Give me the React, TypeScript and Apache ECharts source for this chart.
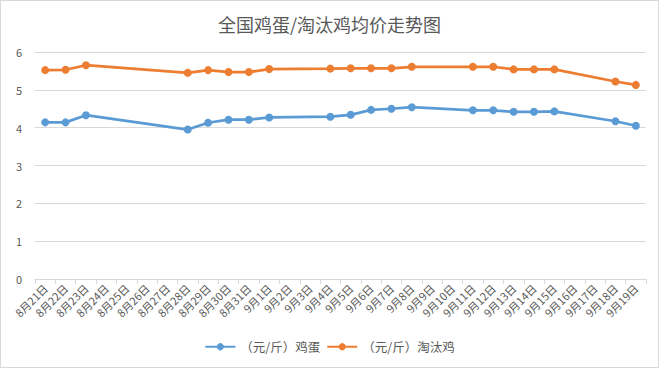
import React, { useEffect, useRef } from "react";
import * as echarts from "echarts";

const categories = [
  "8月21日", "8月22日", "8月23日", "8月24日", "8月25日", "8月26日", "8月27日", "8月28日", "8月29日", "8月30日",
  "8月31日", "9月1日", "9月2日", "9月3日", "9月4日", "9月5日", "9月6日", "9月7日", "9月8日", "9月9日",
  "9月10日", "9月11日", "9月12日", "9月13日", "9月14日", "9月15日", "9月16日", "9月17日", "9月18日", "9月19日",
];

const eggPrices = [
  4.14, 4.14, 4.33, null, null, null, null, 3.95, 4.13, 4.21,
  4.21, 4.27, null, null, 4.29, 4.34, 4.47, 4.5, 4.54, null,
  null, 4.46, 4.46, 4.42, 4.42, 4.43, null, null, 4.17, 4.05,
];

const henPrices = [
  5.52, 5.53, 5.65, null, null, null, null, 5.45, 5.52, 5.47,
  5.47, 5.55, null, null, 5.56, 5.57, 5.57, 5.57, 5.61, null,
  null, 5.61, 5.61, 5.54, 5.54, 5.54, null, null, 5.22, 5.13,
];

const seriesNames = ["（元/斤）鸡蛋", "（元/斤）淘汰鸡"];
const yTicks = [0, 1, 2, 3, 4, 5, 6];

export default function App() {
  const ref = useRef<HTMLDivElement>(null);
  useEffect(() => {
    if (!ref.current) return;
    const chart = echarts.init(ref.current, null, { renderer: "svg" });
    const font = "'Microsoft YaHei', 'Noto Sans CJK SC', sans-serif";
    chart.setOption({
      animation: false,
      backgroundColor: "#ffffff",
      textStyle: { fontFamily: font },
      title: {
        text: "全国鸡蛋/淘汰鸡均价走势图",
        left: "center",
        top: 9,
        textStyle: { fontSize: 18, fontWeight: "normal", color: "#595959", fontFamily: font },
      },
      legend: {
        bottom: 9,
        left: "center",
        itemWidth: 30,
        itemHeight: 9,
        itemGap: 6,
        textStyle: { fontSize: 12.5, color: "#595959" },
        data: seriesNames,
      },
      grid: { left: 34, right: 12, top: 51, bottom: 88, containLabel: false },
      xAxis: {
        type: "category",
        data: categories,
        boundaryGap: true,
        axisLine: { lineStyle: { color: "#d9d9d9" } },
        axisTick: { show: true, alignWithLabel: false, length: 5, lineStyle: { color: "#d9d9d9" } },
        axisLabel: { rotate: 45, interval: 0, fontSize: 11, color: "#595959", margin: 7 },
      },
      yAxis: {
        type: "value",
        min: yTicks[0],
        max: yTicks[yTicks.length - 1],
        interval: 1,
        axisLine: { show: false },
        axisTick: { show: false },
        axisLabel: { fontSize: 11, color: "#595959", margin: 13 },
        splitLine: { lineStyle: { color: "#d9d9d9" } },
      },
      series: [
        {
          name: seriesNames[0],
          type: "line",
          data: eggPrices,
          connectNulls: true,
          symbol: "circle",
          symbolSize: 8,
          color: "#5b9bd5",
          lineStyle: { width: 2.75, color: "#5b9bd5" },
          itemStyle: { color: "#5b9bd5" },
        },
        {
          name: seriesNames[1],
          type: "line",
          data: henPrices,
          connectNulls: true,
          symbol: "circle",
          symbolSize: 8,
          color: "#ed7d31",
          lineStyle: { width: 2.75, color: "#ed7d31" },
          itemStyle: { color: "#ed7d31" },
        },
      ],
    });
    return () => chart.dispose();
  }, []);
  return (
    <div
      style={{
        position: "fixed",
        left: 0,
        top: 0,
        width: 661,
        height: 369,
        background: "#fff",
      }}
    >
      <div
        ref={ref}
        style={{
          position: "absolute",
          left: 0,
          top: 0,
          width: 659,
          height: 368,
          border: "1px solid #d9d9d9",
          boxSizing: "border-box",
        }}
      />
    </div>
  );
}
